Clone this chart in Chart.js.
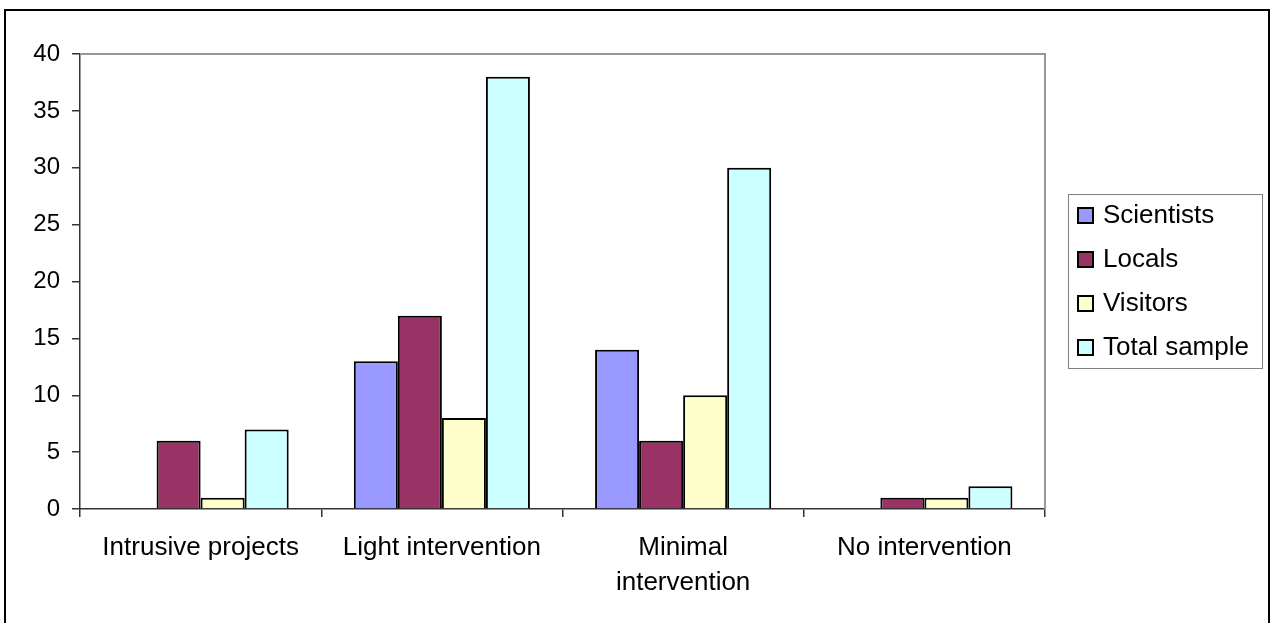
<!DOCTYPE html>
<html>
<head>
<meta charset="utf-8">
<script src="https://cdn.jsdelivr.net/npm/chart.js@4/dist/chart.umd.min.js"></script>
<style>
  html, body { margin: 0; padding: 0; background: #fff; }
  #wrap { width: 1271px; height: 623px; }
</style>
</head>
<body>
<div id="wrap"><canvas id="c" width="1271" height="623"></canvas></div>
<script>
const categories = ['Intrusive projects', 'Light intervention', ['Minimal', 'intervention'], 'No intervention'];
const scientists = [null, 13, 14, null];
const locals = [6, 17, 6, 1];
const visitors = [1, 8, 10, 1];
const totalSample = [7, 38, 30, 2];
const yTicks = [0, 5, 10, 15, 20, 25, 30, 35, 40];

const FONT = "'Liberation Sans', Arial, sans-serif";

const framePlugin = {
  id: 'frame',
  beforeDraw(chart) {
    const ctx = chart.ctx;
    ctx.save();
    ctx.fillStyle = '#fff';
    ctx.fillRect(0, 0, chart.width, chart.height);
    ctx.restore();
  },
  afterDraw(chart) {
    const ctx = chart.ctx;
    const a = chart.chartArea;
    ctx.save();
    // outer border
    ctx.strokeStyle = '#000';
    ctx.lineWidth = 2;
    ctx.strokeRect(5, 10, 1264, 700);
    // plot area top & right edges
    ctx.strokeStyle = '#999';
    ctx.lineWidth = 2;
    ctx.beginPath();
    ctx.moveTo(a.left, a.top);
    ctx.lineTo(a.right, a.top);
    ctx.lineTo(a.right, a.bottom);
    ctx.stroke();
    // legend
    const lx = 1068, ly = 194, lw = 194, lh = 174;
    ctx.strokeStyle = '#808080';
    ctx.lineWidth = 1;
    ctx.strokeRect(lx + 0.5, ly + 0.5, lw, lh);
    ctx.font = '26px ' + FONT;
    ctx.textBaseline = 'middle';
    ctx.textAlign = 'left';
    chart.data.datasets.forEach((ds, i) => {
      const cy = 215 + i * 44;
      ctx.fillStyle = ds.backgroundColor;
      ctx.fillRect(1078, cy - 7, 15, 15);
      ctx.strokeStyle = '#000';
      ctx.lineWidth = 2;
      ctx.strokeRect(1078, cy - 7, 15, 15);
      ctx.fillStyle = '#000';
      ctx.fillText(ds.label, 1103, cy + 1);
    });
    ctx.restore();
  }
};

const mk = (label, data, color) => ({
  label, data, backgroundColor: color, borderColor: '#000', borderWidth: 2,
  categoryPercentage: 0.73, barPercentage: 1.0
});

new Chart(document.getElementById('c'), {
  type: 'bar',
  data: {
    labels: categories,
    datasets: [
      mk('Scientists', scientists, '#9999FF'),
      mk('Locals', locals, '#993366'),
      mk('Visitors', visitors, '#FFFFCC'),
      mk('Total sample', totalSample, '#CCFFFF')
    ]
  },
  options: {
    responsive: false,
    animation: false,
    devicePixelRatio: 1,
    layout: { padding: { left: 5, top: 54, right: 226, bottom: 0 } },
    plugins: { legend: { display: false }, tooltip: { enabled: false } },
    scales: {
      x: {
        afterFit(s) { s.height = 114; },
        grid: { drawOnChartArea: false, drawTicks: true, tickLength: 8, color: '#333', offset: true, lineWidth: 1.5 },
        border: { display: true, color: '#333', width: 1.5 },
        ticks: { color: '#000', font: { family: FONT, size: 26, lineHeight: 1.35 }, padding: 13, maxRotation: 0, autoSkip: false }
      },
      y: {
        min: 0, max: 40,
        afterFit(s) { s.width = 75; },
        afterBuildTicks(s) { s.ticks = yTicks.map(v => ({ value: v })); },
        grid: { drawOnChartArea: false, drawTicks: true, tickLength: 8, color: '#333', lineWidth: 1.5 },
        border: { display: true, color: '#333', width: 1.5 },
        ticks: { color: '#000', font: { family: FONT, size: 24 }, padding: 12 }
      }
    }
  },
  plugins: [framePlugin]
});
</script>
</body>
</html>
